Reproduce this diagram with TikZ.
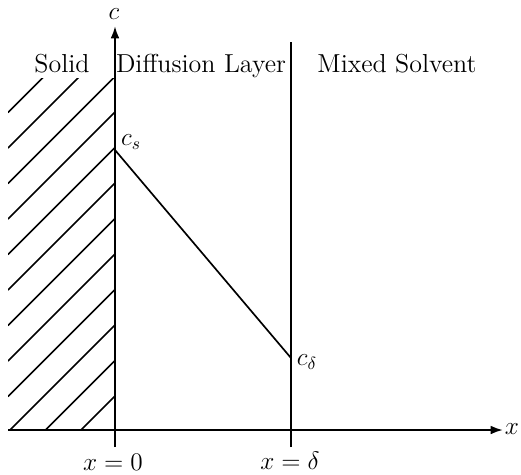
\documentclass[tikz,border=0pt]{standalone}
\usetikzlibrary{arrows.meta}

\tikzset{
  axis/.style={line width=1.2pt, -{Latex[length=7pt,width=5pt]}},
  wall/.style={line width=1.2pt},
  hatch/.style={line width=0.85pt},
  profile/.style={line width=0.95pt},
  lbl/.style={inner sep=0pt}
}

\begin{document}
\begin{tikzpicture}[x=0.02cm, y=-0.02cm, every node/.style={font=\fontsize{14.8}{18}\selectfont}]
	
	\useasboundingbox (0,0) rectangle (521,474);
	
	% --- key points ---
	\coordinate (xstart) at (8,430);
	\coordinate (xend)   at (503,430);
	\coordinate (ybot)   at (115,447);
	\coordinate (ytop)   at (115,26);
	\coordinate (dtop)   at (291,42);
	\coordinate (dbot)   at (291,447);
	\coordinate (cs)     at (115,150);
	\coordinate (cd)     at (291,358);
	
	% hatched solid region
	\begin{scope}
		\clip (8,78) rectangle (115,430);
		\foreach \k in {0,...,11}{
			\draw[hatch] (8,503-35.5*\k) -- (115,396-35.5*\k);
		}
	\end{scope}
	
	% axes
	\draw[axis] (xstart) -- (xend);
	\draw[axis] (ybot) -- (ytop);
	
	% boundary of diffusion layer
	\draw[wall] (dbot) -- (dtop);
	
	% concentration profile
	\draw[profile] (cs) -- (cd);
	
	% axis labels
	\node[lbl] (xlab) at (512,429) {$x$};
	\node[lbl] (clab) at (114,14)  {$c$};
	\node[lbl] (x0)   at (113,462) {$x=0$};
	\node[lbl] (xd)   at (290,461) {$x=\delta$};
	
	% concentrations
	\node[lbl] (cslab) at (131,142) {$c_s$};
	\node[lbl] (cdlab) at (307,362) {$c_\delta$};
	
	% region names
	\node[lbl, anchor=base] (solid)   at (62,72)  {Solid};
	\node[lbl, anchor=base] (diffuse) at (201,72) {Diffusion Layer};
	\node[lbl, anchor=base] (mixed)   at (397,72) {Mixed Solvent};
	
\end{tikzpicture}
\end{document}
